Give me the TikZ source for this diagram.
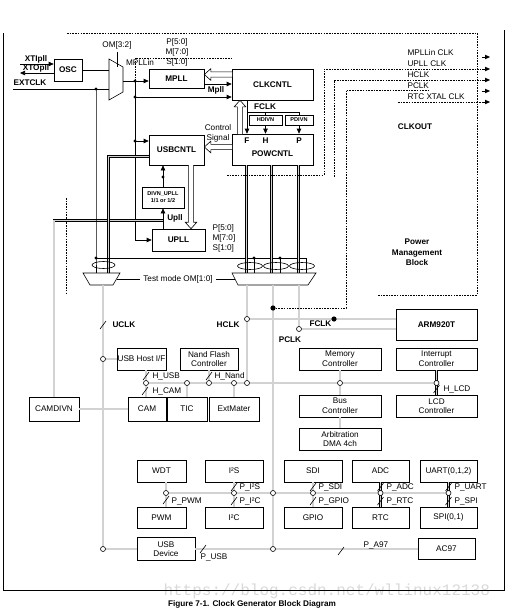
\documentclass[tikz,border=0pt]{standalone}
\usepackage{fontspec}
\setmainfont{Liberation Sans}
\setmonofont{Liberation Mono}
\usetikzlibrary{arrows.meta,calc,positioning}
\newcommand{\busslash}[1]{\draw[line width=0.6pt] ([shift={(-3,4)}]#1) -- ([shift={(3,-4)}]#1);}
\newcommand{\hollowarrow}[2]{%
  \coordinate (ha) at (#1); \coordinate (hb) at (#2);
  \coordinate (hh) at ($(hb)!6.5pt!(ha)$);
  \filldraw[line width=0.6pt,fill=white] ($(ha)!2.6pt!90:(hb)$) -- ($(hh)!2.6pt!90:(hb)$)
    -- ($(hh)!5.8pt!90:(hb)$) -- (hb) -- ($(hh)!5.8pt!-90:(hb)$)
    -- ($(hh)!2.6pt!-90:(hb)$) -- ($(ha)!2.6pt!-90:(hb)$);}

\begin{document}
\begin{tikzpicture}[x=1pt,y=-1pt]
\tikzset{every node/.style={font=\fontsize{8.2}{9.6}\selectfont},
  bf/.style={font=\fontsize{8.2}{9.6}\selectfont\bfseries},
  mini/.style={font=\fontsize{5.6}{6.8}\selectfont\bfseries},
  box/.style n args={2}{draw,line width=0.6pt,inner sep=0pt,align=center,minimum width=#1,minimum height=#2},
  sig/.style={line width=0.6pt},
  sigar/.style={sig,-{Triangle[length=5pt,width=4.4pt]}},
  bus/.style={line width=0.5pt,double=gray!35,double distance=1.6pt},
  pm/.style={line width=0.9pt,dash pattern=on 1.6pt off 1.1pt},
  tap/.style={draw,fill=white,circle,inner sep=0pt,minimum size=5pt,line width=0.6pt},
  jdot/.style={fill,circle,inner sep=0pt,minimum size=3.4pt},
  bigdot/.style={fill,circle,inner sep=0pt,minimum size=5.2pt}}
\useasboundingbox (0,0) rectangle (513,613);

\node[font=\fontsize{16}{16}\selectfont\ttfamily,text=gray!30,anchor=west] at (160,591) {https://blog.csdn.net/wllinux12138};

% frame and power management block
\draw[line width=0.8pt] (3,33) -- (3,590) -- (504,590) -- (504,30);
\draw[pm] (67,33) -- (477,33) -- (477,295) -- (378,295);
\draw[pm] (66,198) -- (66,295);
\node[bf] at (415,127) {CLKOUT};
\node[bf,align=center,font=\fontsize{8.2}{10.5}\selectfont\bfseries] at (417,252.5) {Power\\Management\\Block};

% PLL and control blocks
\node[box={28}{22},bf] (osc) at (68,70) {OSC};
\node[box={55}{19},bf] (mpll) at (176.5,78.5) {MPLL};
\node[box={81}{31},bf] (clkcntl) at (272.5,84.5) {CLKCNTL};
\node[box={81}{31}] (powcntl) at (272.5,149.5) {};
\node[bf] at (272.5,154) {POWCNTL};
\node[bf] at (247,141) {F};
\node[bf] at (265.5,141) {H};
\node[bf] at (299,141) {P};
\node[box={33}{10},mini] (hdivn) at (265.5,120) {HDIVN};
\node[box={28}{10},mini] (pdivn) at (299,120) {PDIVN};
\node[box={55}{30},bf] (usbcntl) at (176.5,150) {USBCNTL};
\node[box={42}{21},mini] (divn) at (163,197.5) {DIVN\_UPLL\\1/1 or 1/2};
\node[box={53}{22},bf] (upll) at (178.5,240) {UPLL};

% AHB side
\node[box={49}{22}] (usbhost) at (141.5,359) {USB Host I/F};
\node[box={58}{22}] (nand) at (209,359) {Nand Flash\\Controller};
\node[box={50}{24}] (camdivn) at (54,409) {CAMDIVN};
\node[box={38}{24}] (cam) at (147,409) {CAM};
\node[box={40}{24}] (tic) at (187,409) {TIC};
\node[box={50}{24}] (extmater) at (234,409) {ExtMater};
\node[box={81}{31},bf] (arm) at (436.5,324.5) {ARM920T};
\node[box={82}{22}] (memctl) at (340,359) {Memory\\Controller};
\node[box={81}{22}] (intctl) at (436.5,359) {Interrupt\\Controller};
\node[box={82}{22}] (busctl) at (340,406) {Bus\\Controller};
\node[box={81}{22}] (lcdctl) at (436.5,406) {LCD\\Controller};
\node[box={82}{22}] (arbit) at (340,439) {Arbitration\\DMA 4ch};

% APB side
\node[box={49}{22}] (wdt) at (161.5,471) {WDT};
\node[box={58}{22}] (i2s) at (234,471) {I²S};
\node[box={58}{22}] (sdi) at (313,471) {SDI};
\node[box={57}{22}] (adc) at (380.5,471) {ADC};
\node[box={57}{22}] (uart) at (448.5,471) {UART(0,1,2)};
\node[box={49}{21}] (pwm) at (161.5,517.5) {PWM};
\node[box={58}{21}] (i2c) at (234,517.5) {I²C};
\node[box={58}{21}] (gpio) at (313,517.5) {GPIO};
\node[box={57}{21}] (rtc) at (380.5,517.5) {RTC};
\node[box={57}{21}] (spi) at (448.5,517.5) {SPI(0,1)};
\node[box={58}{23}] (usbdev) at (166,549) {USB\\Device};
\node[box={57}{21}] (ac97) at (446.5,549) {AC97};

% junctions
\coordinate (mpa) at (135,81);  \coordinate (mpb) at (135,97);
\coordinate (mpc) at (135,141); \coordinate (mpd) at (135,240);
\coordinate (ext) at (96,89);   \coordinate (exta) at (96,258);
\coordinate (extb) at (254,258); \coordinate (extc) at (280,258); \coordinate (extd) at (306,258);
\coordinate (fx) at (247,112);
\coordinate (up) at (163,220.5); \coordinate (cd) at (54,220.5);
\coordinate (ub) at (108.5,156.5);
\coordinate (uhost) at (103,359); \coordinate (udev) at (103,549);
\coordinate (hclk) at (247,319); \coordinate (hbus) at (247,383);
\coordinate (pclk) at (299,329); \coordinate (pbus) at (273,493); \coordinate (pa97) at (273,549);
\coordinate (hUSB) at (146,383); \coordinate (hTIC) at (187,383); \coordinate (hNand) at (209,383);
\coordinate (hExt) at (234,383); \coordinate (hMem) at (340,383); \coordinate (hLCD) at (436.5,383);
\coordinate (pWDT) at (166,493); \coordinate (pI2S) at (234,493); \coordinate (pSDI) at (313,493);
\coordinate (pADC) at (380.5,493); \coordinate (pUART) at (448.5,493);

% clock sources and MPLL
\coordinate (xti) at (20,64); \coordinate (xto) at (20,73); \coordinate (extin) at (13,89);
\draw[sigar] (xti) -- (xti -| osc.west);
\draw[sigar] (osc.west |- xto) -- (xto);
\node[bf] at (36,59) {XTIpll};
\node[bf] at (36,68.5) {XTOpll};
\node[bf] at (30,83) {EXTCLK};
\draw[sig] (109,59) -- (123,67) -- (123,92) -- (109,100) -- cycle;
\node (om32) at (117,45) {OM[3:2]};
\draw[sig] (om32.south) -- ++(0,14.5);
\draw[sig] (osc.east) -- (109,70);
\draw[sig] (extin) -- (109,89);
\node at (140,63) {MPLLin};
\draw[sigar] (123,81) -- (mpa -| mpll.west);
\draw[sig] (mpa) -- (mpd);
\draw[sigar] (mpb) -- (mpb -| clkcntl.west);
\draw[sigar] (mpc) -- (mpc -| usbcntl.west);
\draw[sigar] (mpd) -- (mpd -| upll.west);
\node[align=center,font=\fontsize{8.2}{10}\selectfont] at (177,52) {P[5:0]\\M[7:0]\\S[1:0]};
\coordinate (mout) at (204,84);
\draw[sigar] (mout) -- (mout -| clkcntl.west);
\node[bf] at (216,90) {Mpll};
\coordinate (hl1) at (232,74.5);
\hollowarrow{hl1}{hl1 -| mpll.east}

% CLKCNTL / POWCNTL
\draw[sigar] (clkcntl.south -| fx) -- (powcntl.north -| fx);
\draw[sig] (fx) -| (pdivn.north);
\draw[sig] (hdivn.north) -- (hdivn.north |- fx);
\draw[sigar] (hdivn.south) -- (hdivn.south |- powcntl.north);
\draw[sigar] (pdivn.south) -- (pdivn.south |- powcntl.north);
\node[bf] at (265,106.5) {FCLK};
\coordinate (hl2) at (240,134);
\hollowarrow{hl2}{hl2 |- clkcntl.south}
\coordinate (hl3) at (232,147);
\hollowarrow{hl3}{hl3 -| usbcntl.east}
\node[align=center,font=\fontsize{8.2}{10}\selectfont] at (218,133) {Control\\Signal};

% USB PLL
\coordinate (hl4) at (191,165);
\hollowarrow{hl4}{hl4 |- upll.north}
\draw[sigar] (upll.north -| up) -- (divn.south);
\draw[sigar] (divn.north) -- (divn.north |- usbcntl.south);
\node[jdot] at (163,177) {};
\node[bf] at (175,218) {Upll};
\node[align=left,anchor=west,font=\fontsize{8.2}{10}\selectfont] at (209,238) {P[5:0]\\M[7:0]\\S[1:0]};
\draw[bus] (up) -- (cd) -- (camdivn.north);
\draw[bus] (usbcntl.west |- ub) -- (ub) -- (108.5,273);

% test mode muxes
\draw[sig] (ext) -- (exta) -- (96,273);
\draw[sig] (exta) -- (extd) -- (306,273);
\draw[sig] (extb) -- (254,273);
\draw[sig] (extc) -- (280,273);
\foreach \d in {-26,-1,26}
  \draw[bus] ([xshift=\d]powcntl.south) -- ++(0,108);
\draw[sig] (83,273) -- (120,273) -- (113,285) -- (90,285) -- cycle;
\draw[sig] (232,273) -- (316,273) -- (308,285) -- (238,285) -- cycle;
\draw[sig] (103.5,265) ellipse (11.5 and 3.5);
\foreach \x in {250,276,302}
  \draw[sig] (\x,266) ellipse (12.5 and 3.5);
\node (tm) at (178,279) {Test mode OM[1:0]};
\draw[sig] (117,279) -- (tm.west);
\draw[sig] (tm.east) -- (235,279);

% clock distribution
\draw[bus] (103,285) -- (udev);
\draw[bus] (uhost) -- (uhost -| usbhost.west);
\draw[bus] (udev) -- (usbdev.west);
\draw[bus] (247,285) -- (hbus);
\draw[bus] (273,285) -- (pa97);
\draw[bus] (299,285) -- (pclk);
\draw[bus] (hclk) -- (hclk -| arm.west);
\draw[bus] (pclk) -- (pclk -| arm.west);
\draw[pm] (273,308) -- (346,308) -- (346,90) -- (430,90);
\draw[pm] (mpa) -- (135,58) -- (232,58);
\draw[pm] (227,175) -- (324,175) -- (324,69) -- (481,69);
\draw[pm] (334,177) -- (334,80) -- (481,80);
\draw[pm] (398,102) -- (481,102);
\foreach \y in {57,69,80,91,102}
  \draw[-{Triangle[length=5pt,width=4.4pt]}] (482,\y) -- (490,\y);
\foreach \t/\y in {MPLLin CLK/53,UPLL CLK/64,HCLK/75,PCLK/86,RTC XTAL CLK/97}
  \node[anchor=west] at (404,\y) {\t};
\node[bigdot] at (273,308) {};
\node[bigdot] at (334,319) {};

% AHB bus
\draw[bus] (hUSB) -- (hLCD);
\draw[bus] (hUSB |- usbhost.south) -- (hUSB) -- (hUSB |- cam.north);
\draw[bus] (tic.north) -- (hTIC);
\draw[bus] (nand.south) -- (hNand);
\draw[bus] (extmater.north) -- (hExt);
\draw[bus] (memctl.south) -- (hMem) -- (busctl.north);
\draw[bus] (intctl.south) -- (hLCD) -- (lcdctl.north);
\draw[bus] (busctl.south) -- (arbit.north);
\draw[bus] (camdivn.east) -- (cam.west);

% APB bus
\draw[bus] (pWDT) -- (pUART);
\draw[bus] (pWDT |- wdt.south) -- (pWDT) -- (pWDT |- pwm.north);
\foreach \a/\b/\t in {i2s/i2c/pI2S,sdi/gpio/pSDI,adc/rtc/pADC,uart/spi/pUART}
  \draw[bus] (\a.south) -- (\t) -- (\b.north);
\draw[bus] (usbdev.east) -- (pa97);
\draw[bus] (pa97) -- (ac97.west);

% taps and dots
\foreach \p in {uhost,udev,hclk,hbus,pclk,pbus,pa97,hUSB,hTIC,hNand,hExt,hMem,hLCD,pWDT,pI2S,pSDI,pADC,pUART}
  \node[tap] at (\p) {};
\foreach \p in {mpa,mpb,mpc,ext,exta,extb,extc}
  \node[jdot] at (\p) {};

% bus labels
\busslash{103,325}
\node[bf,anchor=west] at (109,325) {UCLK};
\node[bf,anchor=east] at (243,325) {HCLK};
\node[bf] at (290,340) {PCLK};
\node[bf,anchor=west] at (306,324) {FCLK};
\busslash{146,376}
\node[anchor=west] at (149,376) {H\_USB};
\busslash{145,391}
\node[anchor=west] at (149,391) {H\_CAM};
\busslash{209,376}
\node[anchor=west] at (211,376) {H\_Nand};
\busslash{436.5,389}
\node[anchor=west] at (440,389) {H\_LCD};
\busslash{166,500}
\node[anchor=west] at (168,501) {P\_PWM};
\foreach \x in {234,313,380.5,448.5} {\busslash{\x,487} \busslash{\x,501}}
\node[anchor=west] at (236,487) {P\_I²S};
\node[anchor=west] at (236,501) {P\_I²C};
\node[anchor=west] at (315,487) {P\_SDI};
\node[anchor=west] at (315,501) {P\_GPIO};
\node[anchor=west] at (383,487) {P\_ADC};
\node[anchor=west] at (383,501) {P\_RTC};
\node[anchor=west] at (451,487) {P\_UART};
\node[anchor=west] at (451,501) {P\_SPI};
\busslash{203,549}
\node[anchor=west] at (197,557) {P\_USB};
\busslash{341,551}
\node[anchor=west] at (360,545) {P\_A97};

\node[bf] at (252,604) {Figure 7-1. Clock Generator Block Diagram};
\end{tikzpicture}
\end{document}
